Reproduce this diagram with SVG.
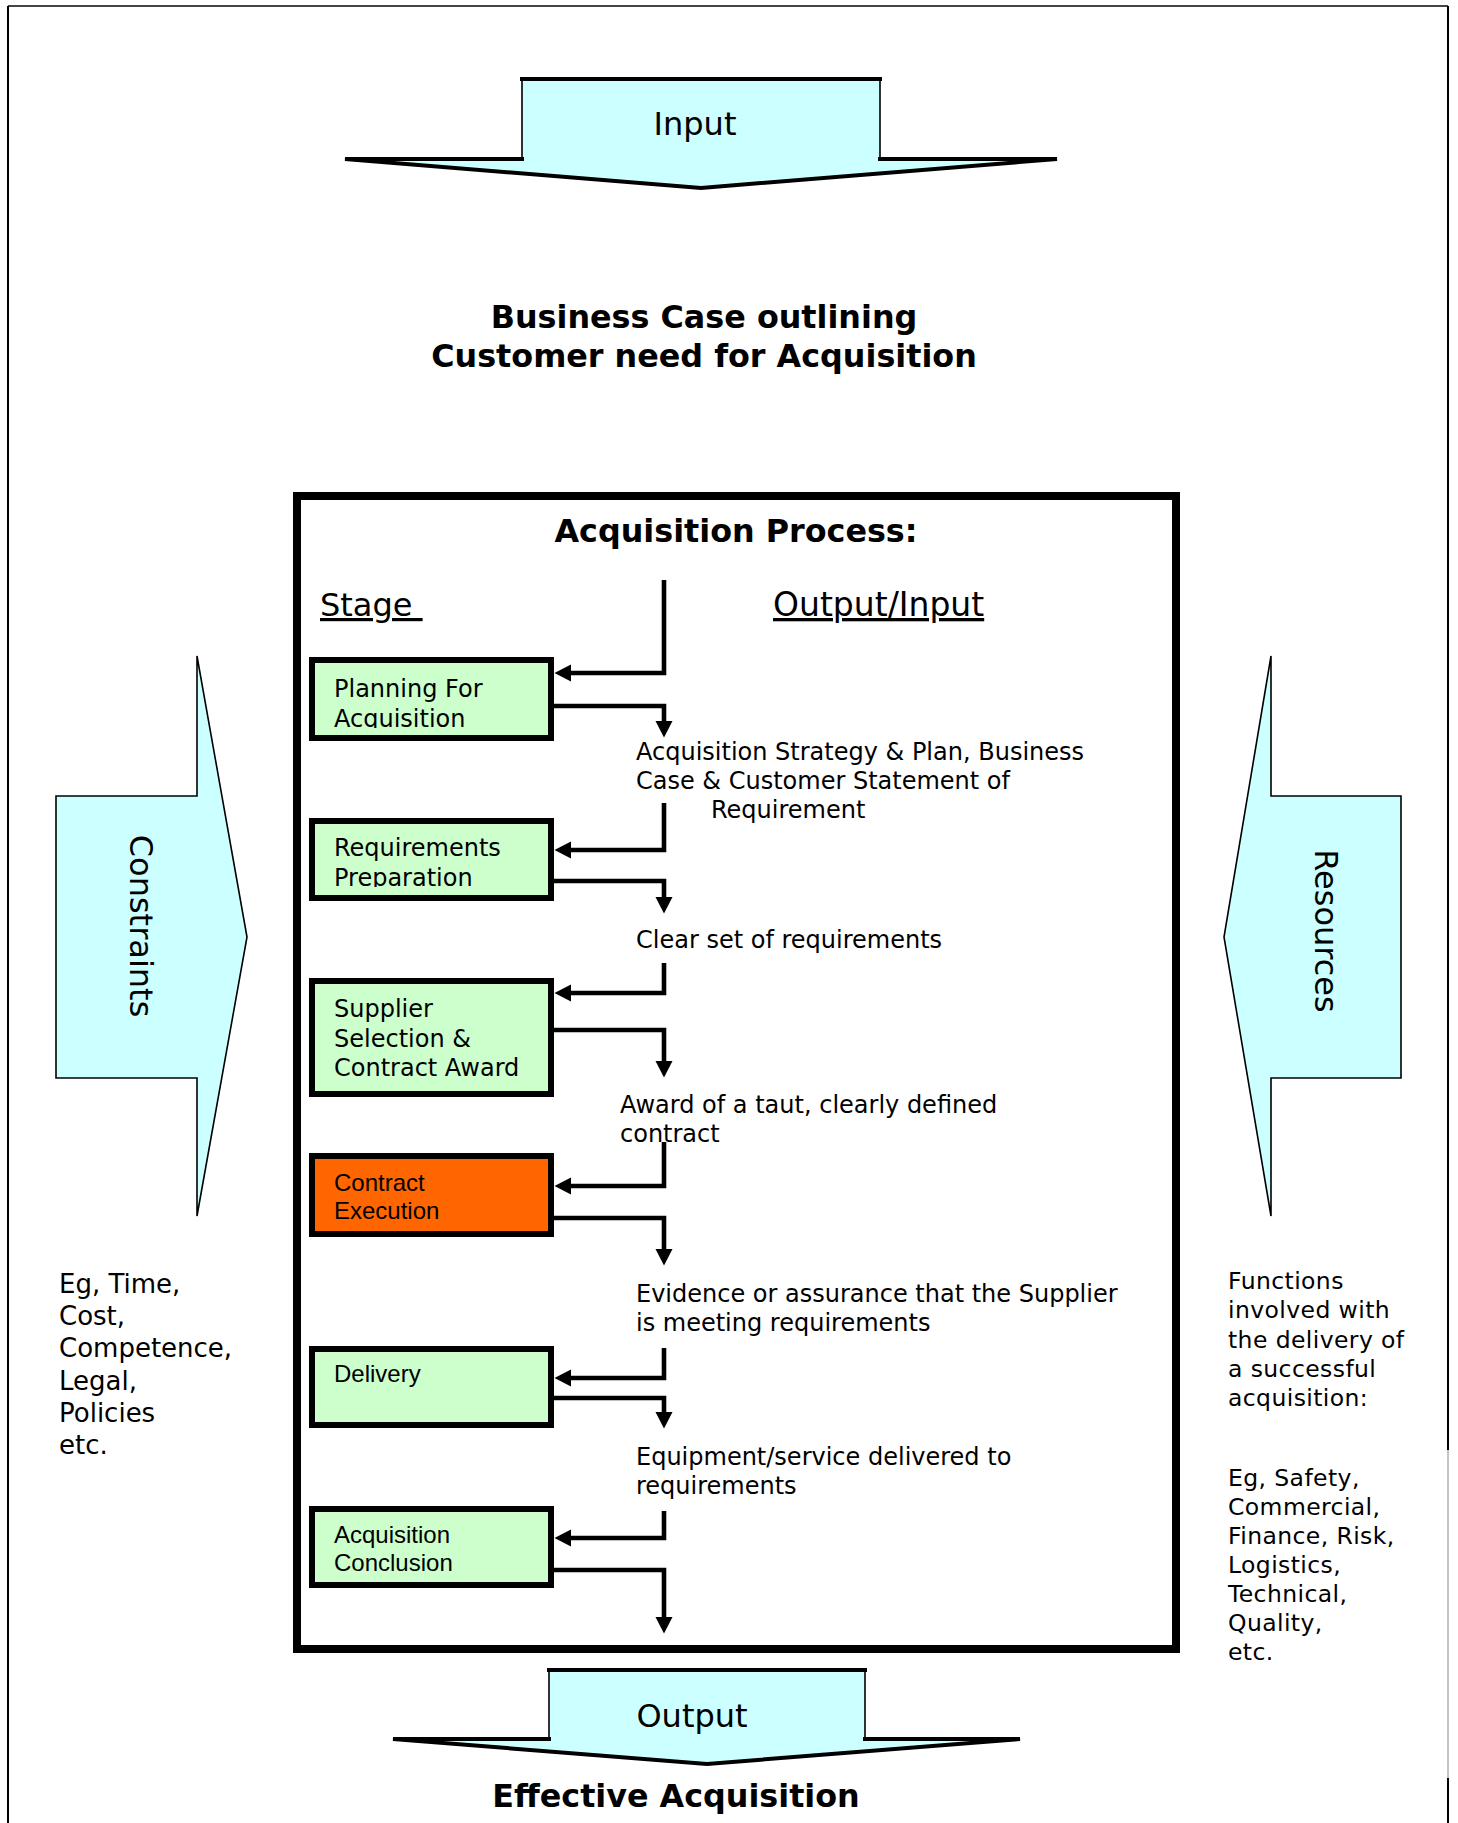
<svg xmlns="http://www.w3.org/2000/svg" width="1458" height="1823" viewBox="0 0 1458 1823">
<style>
  .v { font-family: "DejaVu Sans", Verdana, sans-serif; fill: #000; }
  .a { font-family: "Liberation Sans", Arial, sans-serif; fill: #000; }
  .b { font-weight: bold; }
  .box { fill: #CCFFCC; stroke: #000; stroke-width: 6; }
  .orange { fill: #FF6600; }
  .cyan { fill: #CCFFFF; stroke: #000; stroke-width: 1.6; stroke-linejoin: miter; }
  .thick { fill: none; stroke: #000; stroke-width: 4; stroke-linejoin: miter; }
  .conn { fill: none; stroke: #000; stroke-width: 4.6; stroke-linejoin: miter; stroke-linecap: butt; marker-end: url(#ah); }
  .t24 { font-size: 24px; }
  .t32 { font-size: 32px; }
  .t31 { font-size: 31.8px; }
</style>
<defs>
  <marker id="ah" markerUnits="userSpaceOnUse" markerWidth="18" markerHeight="18" refX="11" refY="8.5" orient="auto" overflow="visible">
    <path d="M0,0 L16.5,8.5 L0,17 z" fill="#000"/>
  </marker>
  <clipPath id="clip1"><rect x="315" y="663" width="233" height="65"/></clipPath>
  <clipPath id="clip2"><rect x="315" y="824" width="233" height="63"/></clipPath>
</defs>
<rect x="0" y="0" width="1458" height="1823" fill="#fff"/>

<g id="page-border">
  <line x1="8" y1="6" x2="1448" y2="6" stroke="#444" stroke-width="2"/>
  <line x1="8" y1="6" x2="8" y2="1823" stroke="#000" stroke-width="2"/>
  <line x1="1448" y1="6" x2="1448" y2="1450" stroke="#000" stroke-width="2"/>
  <line x1="1448" y1="1450" x2="1448" y2="1778" stroke="#888" stroke-width="1"/>
  <line x1="1448" y1="1778" x2="1448" y2="1823" stroke="#000" stroke-width="2"/>
</g>

<g id="input-arrow">
  <polygon class="cyan" points="522,79 880,79 880,159 1057,159 701,188 345,159 522,159"/>
  <path class="thick" d="M520,79 H882 M878,159 H1057 L701,188 L345,159 H524"/>
  <text class="v t32" x="695" y="135" text-anchor="middle">Input</text>
</g>

<g id="business-case">
  <text class="v b t31" x="704" y="328" text-anchor="middle">Business Case outlining</text>
  <text class="v b t31" x="704" y="367" text-anchor="middle">Customer need for Acquisition</text>
</g>

<g id="process-frame">
  <rect x="297" y="496" width="879" height="1153" fill="none" stroke="#000" stroke-width="8"/>
  <text class="v b t31" x="736" y="542" text-anchor="middle">Acquisition Process:</text>
  <text class="v t32" x="320" y="616" text-decoration="underline">Stage&#160;</text>
  <text class="v" font-size="33" x="773" y="616" text-decoration="underline">Output/Input</text>
</g>

<g id="constraints-arrow">
  <polygon class="cyan" points="56,796 197,796 197,656 247,937 197,1216 197,1078 56,1078"/>
  <text class="v t32" transform="translate(141,926) rotate(90)" x="0" y="11.5" text-anchor="middle">Constraints</text>
</g>

<g id="resources-arrow">
  <polygon class="cyan" points="1401,796 1271,796 1271,656 1224,937 1271,1216 1271,1078 1401,1078"/>
  <text class="v t32" transform="translate(1326,931) rotate(90)" x="0" y="11.5" text-anchor="middle">Resources</text>
</g>

<g id="constraints-text" class="v" font-size="26">
  <text x="59" y="1293">Eg, Time,</text>
  <text x="59" y="1325">Cost,</text>
  <text x="59" y="1357">Competence,</text>
  <text x="59" y="1390">Legal,</text>
  <text x="59" y="1422">Policies</text>
  <text x="59" y="1454">etc.</text>
</g>

<g id="resources-text" class="v" font-size="23.5" letter-spacing="0.4">
  <text x="1228" y="1289">Functions</text>
  <text x="1228" y="1318">involved with</text>
  <text x="1228" y="1348">the delivery of</text>
  <text x="1228" y="1377">a successful</text>
  <text x="1228" y="1406">acquisition:</text>
  <text x="1228" y="1486">Eg, Safety,</text>
  <text x="1228" y="1515">Commercial,</text>
  <text x="1228" y="1544">Finance, Risk,</text>
  <text x="1228" y="1573">Logistics,</text>
  <text x="1228" y="1602">Technical,</text>
  <text x="1228" y="1631">Quality,</text>
  <text x="1228" y="1660">etc.</text>
</g>

<g id="stage-planning">
  <rect class="box" x="312" y="660" width="239" height="78"/>
  <g clip-path="url(#clip1)">
    <text class="v t24" x="334" y="697">Planning For</text>
    <text class="v t24" x="334" y="727">Acquisition</text>
  </g>
</g>

<g id="stage-requirements">
  <rect class="box" x="312" y="821" width="239" height="77"/>
  <g clip-path="url(#clip2)">
    <text class="v t24" x="334" y="856">Requirements</text>
    <text class="v t24" x="334" y="886">Preparation</text>
  </g>
</g>

<g id="stage-supplier">
  <rect class="box" x="312" y="981" width="239" height="113"/>
  <text class="v t24" x="334" y="1017">Supplier</text>
  <text class="v t24" x="334" y="1047">Selection &amp;</text>
  <text class="v t24" x="334" y="1076">Contract Award</text>
</g>

<g id="stage-contract-execution">
  <rect class="box orange" x="312" y="1156" width="239" height="78"/>
  <text class="a t24" x="334" y="1191">Contract</text>
  <text class="a t24" x="334" y="1219">Execution</text>
</g>

<g id="stage-delivery">
  <rect class="box" x="312" y="1349" width="239" height="76"/>
  <text class="a t24" x="334" y="1382">Delivery</text>
</g>

<g id="stage-conclusion">
  <rect class="box" x="312" y="1509" width="239" height="76"/>
  <text class="a t24" x="334" y="1543">Acquisition</text>
  <text class="a t24" x="334" y="1571">Conclusion</text>
</g>

<g id="outputs" class="v t24">
  <text x="636" y="760">Acquisition Strategy &amp; Plan, Business</text>
  <text x="636" y="789">Case &amp; Customer Statement of</text>
  <text x="711" y="818">Requirement</text>
  <text x="636" y="948">Clear set of requirements</text>
  <text x="620" y="1113">Award of a taut, clearly defined</text>
  <text x="620" y="1142">contract</text>
  <text x="636" y="1302">Evidence or assurance that the Supplier</text>
  <text x="636" y="1331">is meeting requirements</text>
  <text x="636" y="1465">Equipment/service delivered to</text>
  <text x="636" y="1494">requirements</text>
</g>

<g id="connectors">
  <path class="conn" d="M664,580 V673 H560"/>
  <path class="conn" d="M554,706 H664 V732"/>
  <path class="conn" d="M664,803 V850 H560"/>
  <path class="conn" d="M554,881 H664 V908"/>
  <path class="conn" d="M664,963 V993 H560"/>
  <path class="conn" d="M554,1030 H664 V1072"/>
  <path class="conn" d="M664,1142 V1186 H560"/>
  <path class="conn" d="M554,1218 H664 V1260"/>
  <path class="conn" d="M664,1348 V1378 H560"/>
  <path class="conn" d="M554,1398 H664 V1423"/>
  <path class="conn" d="M664,1511 V1538 H560"/>
  <path class="conn" d="M554,1570 H664 V1628"/>
</g>

<g id="output-arrow">
  <polygon class="cyan" points="549,1670 865,1670 865,1739 1020,1739 707,1764 393,1739 549,1739"/>
  <path class="thick" d="M547,1670 H867 M863,1739 H1020 L707,1764 L393,1739 H551"/>
  <text class="v t32" x="692" y="1727" text-anchor="middle">Output</text>
</g>

<g id="effective">
  <text class="v b t31" x="676" y="1807" text-anchor="middle">Effective Acquisition</text>
</g>
</svg>
